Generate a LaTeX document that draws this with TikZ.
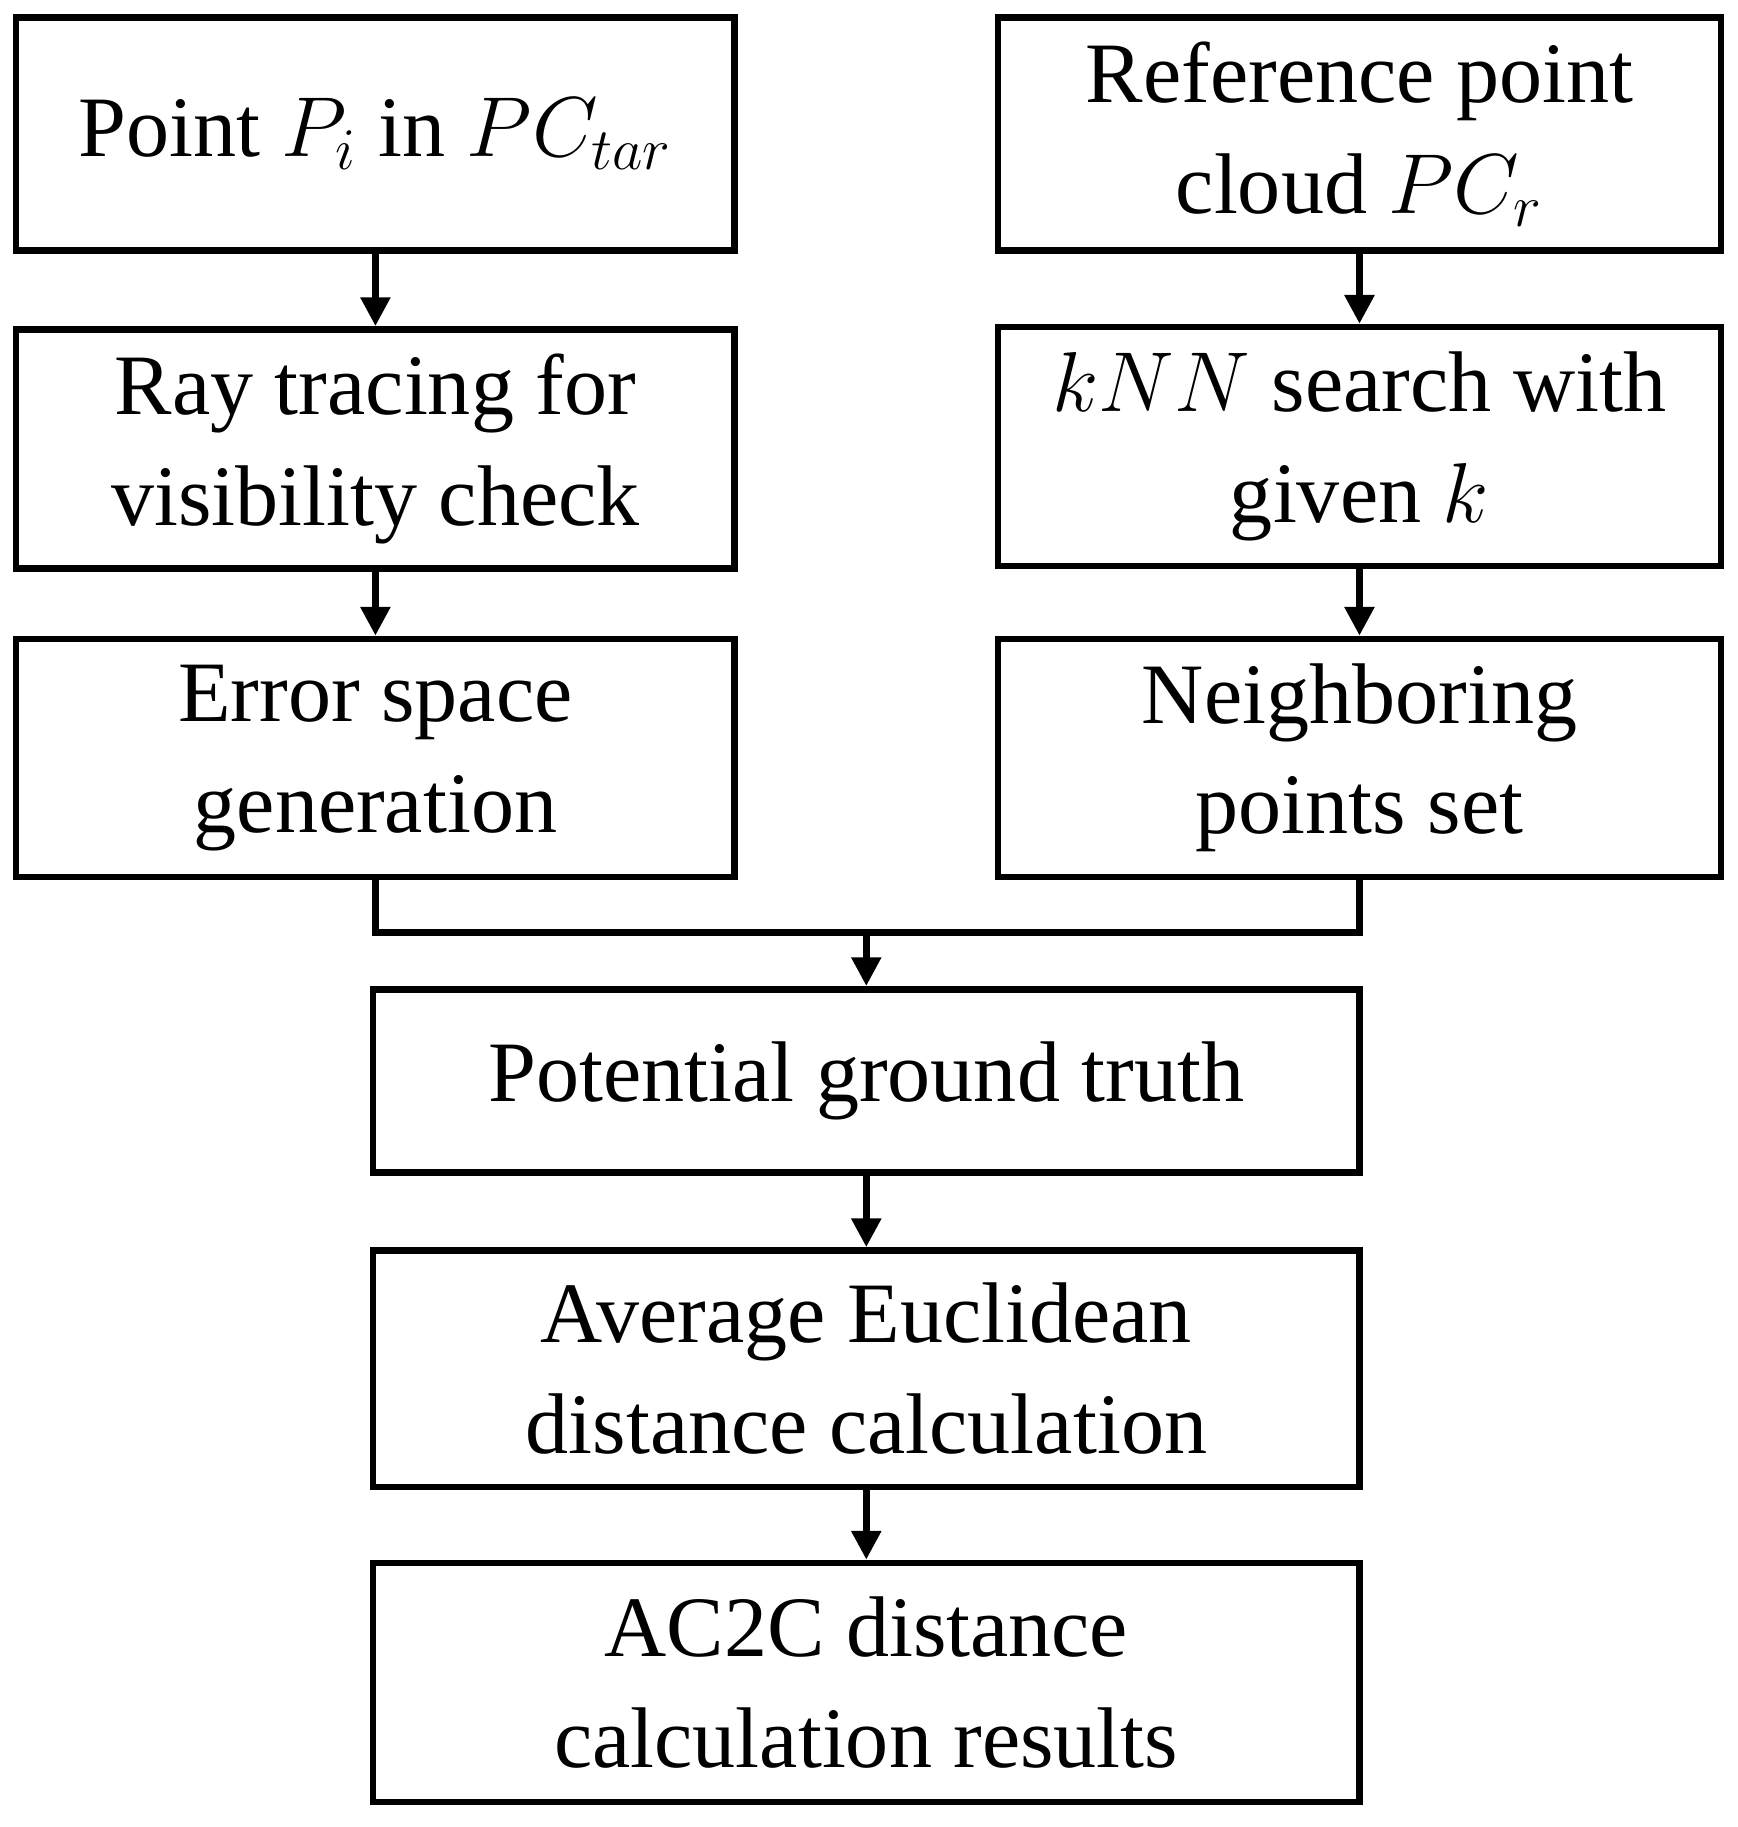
\documentclass[tikz,border=0pt]{standalone}
\usepackage{fontspec}
\setmainfont{Liberation Serif}
\usetikzlibrary{arrows.meta}
\begin{document}
\begin{tikzpicture}[x=0.01cm,y=-0.01cm,
  box/.style={draw,line width=1.6pt,align=center,inner sep=0pt,
    font=\fontsize{21}{27}\selectfont},
  arr/.style={line width=1.6pt,-{Triangle[length=7pt,width=7pt]}}]
\useasboundingbox (0,0) rectangle (1490,1567);
% left column
\node[box,minimum width=6.16cm,minimum height=2cm] (l1) at (322,115) {Point $P_i$ in $PC_{tar}$};
\node[box,minimum width=6.16cm,minimum height=2.05cm] (l2) at (322,385) {Ray tracing for\\visibility check};
\node[box,minimum width=6.16cm,minimum height=2.04cm] (l3) at (322,650) {Error space\\generation};
% right column
\node[box,minimum width=6.2cm,minimum height=2cm] (r1) at (1166,115) {Reference point\\cloud $PC_r$};
\node[box,minimum width=6.2cm,minimum height=2.05cm] (r2) at (1166,383) {$kNN$ search with\\given $k$};
\node[box,minimum width=6.2cm,minimum height=2.04cm] (r3) at (1166,650) {Neighboring\\points set};
% center column
\node[box,minimum width=8.46cm,minimum height=1.57cm] (c1) at (743,927) {Potential ground truth};
\node[box,minimum width=8.46cm,minimum height=2.03cm] (c2) at (743,1174) {Average Euclidean\\distance calculation};
\node[box,minimum width=8.46cm,minimum height=2.05cm] (c3) at (743,1443) {AC2C distance\\calculation results};
\coordinate (m) at (743,800);
\draw[arr] (l1) -- (l2);
\draw[arr] (l2) -- (l3);
\draw[arr] (r1) -- (r2);
\draw[arr] (r2) -- (r3);
\draw[line width=1.6pt] (l3.south) |- (m) -| (r3.south);
\draw[arr] (m) -- (c1);
\draw[arr] (c1) -- (c2);
\draw[arr] (c2) -- (c3);
\end{tikzpicture}
\end{document}
